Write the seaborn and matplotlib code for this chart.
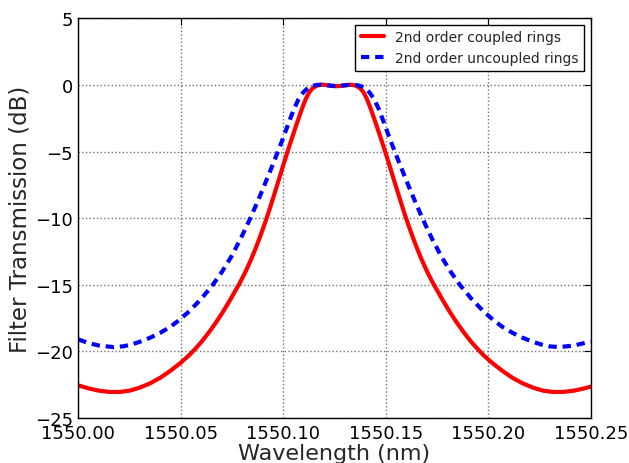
import matplotlib
matplotlib.use("Agg")
import matplotlib.pyplot as plt
import seaborn as sns
import numpy as np
import pandas as pd

# Wavelength offsets (nm, relative to 1550) and transmission (dB)
coupled_x = [0.000, 0.005, 0.010, 0.015, 0.020, 0.025, 0.030, 0.035, 0.040, 0.045,
             0.050, 0.054, 0.057, 0.060, 0.0635, 0.067, 0.0705, 0.074, 0.0765, 0.0786,
             0.0815, 0.0843, 0.0863, 0.0883, 0.0902, 0.0919, 0.0938, 0.0956, 0.0973, 0.0989,
             0.1005, 0.1021, 0.1039, 0.1060, 0.1080, 0.1097, 0.1112, 0.1128, 0.1145, 0.1165,
             0.1190, 0.1215, 0.1240, 0.1259, 0.1278, 0.1303, 0.1328, 0.1353, 0.1373, 0.1390,
             0.1406, 0.1421, 0.1438, 0.1458, 0.1479, 0.1497, 0.1513, 0.1529, 0.1545, 0.1562,
             0.1580, 0.1599, 0.1616, 0.1635, 0.1655, 0.1675, 0.1703, 0.1732, 0.1753, 0.1778,
             0.1813, 0.1848, 0.1883, 0.1918, 0.1948, 0.1978, 0.2018, 0.2068, 0.2118, 0.2168,
             0.2218, 0.2268, 0.2318, 0.2368, 0.2418, 0.2468, 0.2500]
coupled_db = [-22.55, -22.78, -22.95, -23.04, -23.05, -22.95, -22.72, -22.40, -21.98, -21.45,
              -20.85, -20.30, -19.82, -19.30, -18.62, -17.87, -17.05, -16.16, -15.48, -14.92,
              -14.05, -13.10, -12.35, -11.55, -10.75, -10.00, -9.10, -8.22, -7.38, -6.58,
              -5.78, -5.00, -4.15, -3.18, -2.28, -1.55, -0.98, -0.52, -0.22, -0.05,
              0.02, -0.02, -0.08, -0.10, -0.08, -0.02, 0.02, -0.05, -0.22, -0.52,
              -0.98, -1.55, -2.28, -3.18, -4.15, -5.00, -5.78, -6.58, -7.38, -8.22,
              -9.10, -10.00, -10.75, -11.55, -12.35, -13.10, -14.05, -14.92, -15.48, -16.16,
              -17.05, -17.87, -18.62, -19.30, -19.82, -20.30, -20.85, -21.45, -21.98, -22.40,
              -22.72, -22.95, -23.05, -23.04, -22.95, -22.78, -22.65]

uncoupled_x = [0.000, 0.005, 0.010, 0.0172, 0.022, 0.026, 0.030, 0.035, 0.0398, 0.0447,
               0.0495, 0.0544, 0.060, 0.0654, 0.070, 0.0746, 0.0792, 0.0838, 0.0862, 0.0883,
               0.0908, 0.0932, 0.0955, 0.0976, 0.0990, 0.1005, 0.1030, 0.1053, 0.1075, 0.1097,
               0.1115, 0.1135, 0.1160, 0.1185, 0.1215, 0.1240, 0.1259, 0.1278, 0.1303, 0.1333,
               0.1358, 0.1383, 0.1403, 0.1421, 0.1443, 0.1465, 0.1488, 0.1513, 0.1528, 0.1542,
               0.1563, 0.1586, 0.1610, 0.1635, 0.1656, 0.1680, 0.1726, 0.1772, 0.1818, 0.1864,
               0.1918, 0.1974, 0.2023, 0.2071, 0.2120, 0.2168, 0.2218, 0.2258, 0.2298, 0.2346,
               0.2418, 0.2468, 0.2500]
uncoupled_db = [-19.10, -19.38, -19.56, -19.68, -19.62, -19.48, -19.28, -18.98, -18.62, -18.18,
                -17.62, -16.95, -16.05, -15.05, -14.05, -12.90, -11.55, -10.05, -9.20, -8.45,
                -7.53, -6.62, -5.74, -4.92, -4.36, -3.75, -2.70, -1.78, -1.06, -0.57,
                -0.30, -0.12, -0.01, 0.02, -0.03, -0.07, -0.08, -0.07, -0.03, 0.02,
                -0.01, -0.12, -0.30, -0.57, -1.06, -1.78, -2.70, -3.75, -4.36, -4.92,
                -5.74, -6.62, -7.53, -8.45, -9.20, -10.05, -11.55, -12.90, -14.05, -15.05,
                -16.05, -16.95, -17.62, -18.18, -18.62, -18.98, -19.28, -19.48, -19.62, -19.68,
                -19.56, -19.38, -19.25]

x_ticks = [1550.00, 1550.05, 1550.10, 1550.15, 1550.20, 1550.25]
x_tick_labels = ["1550.00", "1550.05", "1550.10", "1550.15", "1550.20", "1550.25"]
y_ticks = [-25, -20, -15, -10, -5, 0, 5]

df_c = pd.DataFrame({"wl": 1550 + np.array(coupled_x), "db": coupled_db})
df_u = pd.DataFrame({"wl": 1550 + np.array(uncoupled_x), "db": uncoupled_db})

sns.set_style("white")
plt.rcParams["font.family"] = ["DejaVu Sans"]

fig = plt.figure(figsize=(6.29, 4.64), dpi=100)
ax = fig.add_axes([0.1245, 0.0970, 0.8146, 0.8614])

sns.lineplot(data=df_c, x="wl", y="db", ax=ax, color="red", lw=3,
             label="2nd order coupled rings", sort=False)
sns.lineplot(data=df_u, x="wl", y="db", ax=ax, color="blue", lw=3,
             linestyle=(0, (2.0, 1.4)), label="2nd order uncoupled rings", sort=False)

ax.set_xlim(1550.0, 1550.25)
ax.set_ylim(-25, 5)
ax.set_xticks(x_ticks)
ax.set_xticklabels(x_tick_labels)
ax.set_yticks(y_ticks)
ax.tick_params(direction="in", length=5, width=0.8, top=True, right=True,
               labelsize=13, pad=4, colors="black")
ax.grid(True, color="0.45", linestyle=":", linewidth=1)
for s in ax.spines.values():
    s.set_color("black")
    s.set_linewidth(1)
ax.set_xlabel("Wavelength (nm)", fontsize=16, labelpad=1)
ax.set_ylabel("Filter Transmission (dB)", fontsize=16.5, labelpad=2)

leg = ax.legend(loc="upper right", fontsize=10, frameon=True, fancybox=False,
                handlelength=1.7, handletextpad=0.8, borderaxespad=0.45, framealpha=1)
leg.get_frame().set_edgecolor("black")
leg.get_frame().set_linewidth(1)

fig.savefig("out.png", dpi=100)
